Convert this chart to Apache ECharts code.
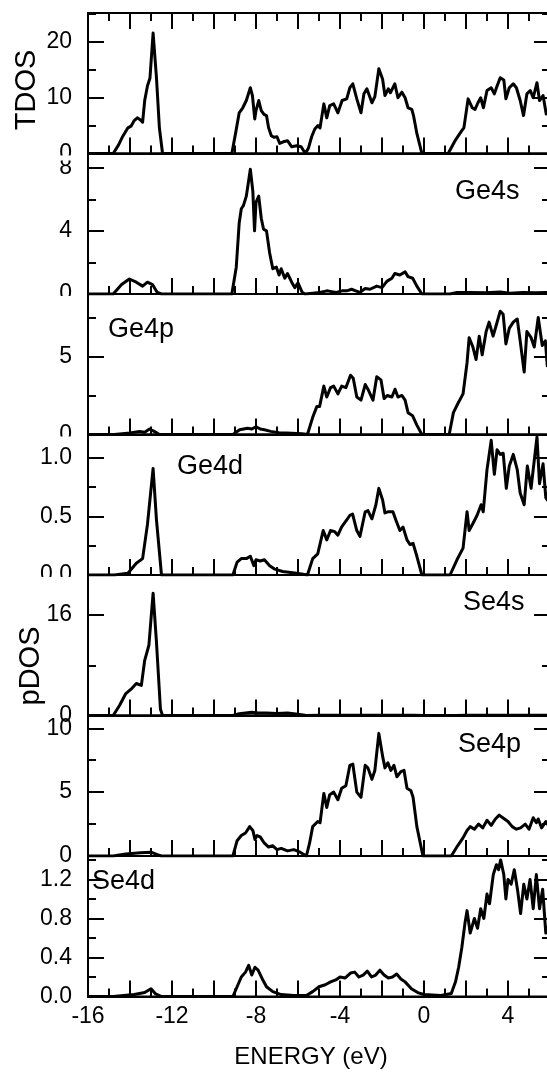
<!DOCTYPE html>
<html>
<head>
<meta charset="utf-8">
<script src="https://cdn.jsdelivr.net/npm/echarts@6/dist/echarts.min.js"></script>
<style>
html,body{margin:0;padding:0;background:#fff}
#chart{width:547px;height:1082px}
</style>
</head>
<body>
<div id="chart"></div>
<script>
// Density of states, [energy (eV), states] pairs per curve
const tdos = [[-16,0],[-14.8,0],[-14.55,1.5],[-14.37,2.9],[-14.1,4.6],[-13.95,4.9],[-13.8,5.9],[-13.65,6.4],[-13.5,6.0],[-13.4,5.6],[-13.3,9.5],[-13.17,12.1],[-13.05,13.5],[-12.9,21.6],[-12.74,13.6],[-12.6,4.6],[-12.45,0],
  [-9.15,0],[-8.95,4.1],[-8.8,7.3],[-8.63,8.2],[-8.46,9.5],[-8.27,11.8],[-8.17,10.4],[-8.06,6.2],[-8.0,7.7],[-7.87,9.5],[-7.75,7.7],[-7.62,7.0],[-7.5,6.8],[-7.4,4.6],[-7.27,3.2],[-7.15,2.9],[-7.0,3.0],[-6.87,1.8],[-6.7,2.1],[-6.5,2.3],[-6.3,1.2],[-6.06,1.4],[-5.85,1.2],[-5.65,0],[-5.5,1.0],[-5.35,3.0],[-5.2,4.4],[-5.05,5.0],[-4.95,4.6],[-4.77,8.9],[-4.63,6.4],[-4.49,8.6],[-4.3,8.9],[-4.1,7.3],[-3.9,9.5],[-3.68,9.8],[-3.53,11.8],[-3.39,12.5],[-3.2,9.8],[-3.0,7.3],[-2.86,10.7],[-2.72,11.6],[-2.48,9.1],[-2.34,10.2],[-2.15,15.2],[-1.97,13.3],[-1.86,10.4],[-1.7,11.6],[-1.6,10.9],[-1.39,12.5],[-1.24,10.0],[-1.05,11.0],[-0.9,10.0],[-0.76,8.2],[-0.58,7.9],[-0.5,6.8],[-0.34,3.6],[-0.1,0],
  [1.15,0],[1.48,2.3],[1.8,4.1],[1.9,4.6],[2.1,9.8],[2.3,8.2],[2.43,7.9],[2.57,9.1],[2.7,10.0],[2.83,8.2],[3.0,11.3],[3.2,11.8],[3.35,10.7],[3.48,12.1],[3.63,13.6],[3.8,13.2],[3.9,9.8],[4.06,11.8],[4.25,12.5],[4.4,11.8],[4.58,9.5],[4.74,6.8],[4.9,10.7],[5.06,11.3],[5.2,10.0],[5.38,12.7],[5.5,9.5],[5.67,10.4],[5.82,7.1],[6.0,8.5]];

const ge4s = [[-16,0],[-14.8,0],[-14.4,0.6],[-14.03,0.95],[-13.7,0.75],[-13.4,0.5],[-13.17,0.75],[-12.93,0.6],[-12.7,0.1],[-12.5,0],
  [-9.15,0],[-8.94,1.7],[-8.8,4.5],[-8.7,5.4],[-8.6,5.6],[-8.46,6.2],[-8.27,7.9],[-8.15,6.5],[-8.07,4.0],[-8.0,5.8],[-7.87,6.2],[-7.75,4.8],[-7.64,4.1],[-7.5,4.0],[-7.35,2.6],[-7.2,1.6],[-7.03,1.7],[-6.9,1.2],[-6.8,1.6],[-6.63,1.0],[-6.5,1.3],[-6.3,0.75],[-6.15,0.4],[-6.0,0.7],[-5.8,0.1],[-5.67,0],[-5.3,0.05],[-4.96,0.1],[-4.63,0.2],[-4.4,0.15],[-4.17,0.1],[-3.9,0.2],[-3.68,0.2],[-3.45,0.3],[-3.25,0.2],[-3.05,0.1],[-2.8,0.35],[-2.57,0.3],[-2.25,0.5],[-2.0,0.4],[-1.77,0.8],[-1.53,1.0],[-1.39,1.3],[-1.15,1.2],[-0.9,1.4],[-0.76,1.1],[-0.54,1.0],[-0.34,0.5],[-0.1,0],
  [1.24,0],[1.57,0.1],[2.2,0.1],[2.95,0.08],[3.63,0.12],[4.1,0.05],[4.7,0.1],[5.3,0.08],[6.0,0.1]];

const ge4p = [[-16,0],[-14.75,0],[-14.0,0.1],[-13.55,0.2],[-13.3,0.15],[-13.07,0.35],[-12.85,0.2],[-12.6,0],
  [-9.1,0],[-8.78,0.3],[-8.4,0.4],[-8.2,0.35],[-8.0,0.5],[-7.8,0.35],[-7.6,0.3],[-7.3,0.2],[-6.9,0.12],[-6.55,0.1],[-5.8,0.05],[-5.55,0],[-5.3,1.1],[-5.1,1.8],[-4.97,1.8],[-4.77,3.1],[-4.63,2.4],[-4.45,3.0],[-4.3,3.1],[-4.1,2.6],[-3.92,3.1],[-3.72,3.0],[-3.5,3.8],[-3.37,3.6],[-3.2,2.4],[-3.0,2.2],[-2.8,3.2],[-2.67,2.9],[-2.43,2.2],[-2.25,3.7],[-2.05,3.5],[-1.9,2.3],[-1.75,2.5],[-1.53,2.4],[-1.38,2.9],[-1.24,2.4],[-1.05,2.5],[-0.9,2.2],[-0.76,1.4],[-0.54,1.2],[-0.34,0.6],[-0.1,0],
  [1.2,0],[1.4,1.4],[1.62,2.0],[1.86,2.6],[2.05,4.6],[2.15,6.2],[2.33,5.6],[2.48,4.8],[2.63,6.3],[2.77,5.1],[2.96,6.6],[3.1,7.2],[3.29,6.3],[3.44,7.0],[3.63,7.9],[3.77,7.7],[3.9,5.8],[4.06,6.8],[4.25,7.2],[4.44,7.4],[4.58,6.0],[4.77,4.0],[4.9,6.6],[5.1,6.2],[5.25,5.6],[5.44,7.5],[5.63,5.7],[5.78,6.0],[5.87,4.4],[6.0,6.5]];

const ge4d = [[-16,0],[-14.75,0],[-14.1,0.015],[-13.7,0.1],[-13.4,0.14],[-13.17,0.43],[-12.9,0.91],[-12.74,0.47],[-12.5,0],
  [-9.1,0],[-8.9,0.11],[-8.7,0.14],[-8.46,0.14],[-8.27,0.16],[-8.1,0.08],[-8.0,0.13],[-7.8,0.12],[-7.6,0.13],[-7.35,0.08],[-7.1,0.05],[-6.73,0.03],[-6.06,0.015],[-5.55,0],[-5.3,0.14],[-5.06,0.18],[-4.8,0.38],[-4.63,0.3],[-4.45,0.38],[-4.25,0.37],[-4.1,0.34],[-3.92,0.41],[-3.68,0.47],[-3.53,0.51],[-3.4,0.52],[-3.2,0.38],[-3.05,0.33],[-2.8,0.54],[-2.67,0.55],[-2.48,0.48],[-2.29,0.6],[-2.15,0.74],[-1.97,0.64],[-1.86,0.53],[-1.72,0.54],[-1.48,0.54],[-1.34,0.47],[-1.15,0.38],[-1.0,0.41],[-0.81,0.3],[-0.67,0.26],[-0.52,0.27],[-0.34,0.16],[-0.1,0],
  [1.24,0],[1.57,0.13],[1.86,0.23],[2.05,0.54],[2.15,0.38],[2.33,0.44],[2.53,0.51],[2.72,0.6],[2.82,0.54],[3.0,0.9],[3.2,1.15],[3.35,0.86],[3.48,1.07],[3.63,1.03],[3.77,1.04],[3.92,0.74],[4.06,0.93],[4.25,1.03],[4.44,0.9],[4.58,0.7],[4.77,0.6],[4.92,0.93],[5.1,0.74],[5.2,0.9],[5.38,1.18],[5.5,0.78],[5.67,0.95],[5.8,0.66],[5.87,0.64],[6.0,0.8]];

const se4s = [[-16,0],[-14.8,0],[-14.5,1.6],[-14.2,3.5],[-13.95,4.2],[-13.7,5.1],[-13.46,4.8],[-13.3,8.8],[-13.1,11.2],[-12.9,19.5],[-12.74,11.7],[-12.55,1.0],[-12.45,0],
  [-9.1,0],[-8.8,0.3],[-8.5,0.4],[-8.2,0.5],[-7.9,0.4],[-7.5,0.4],[-7.0,0.3],[-6.5,0.4],[-6.0,0.2],[-5.6,0],[-5.0,0.05],[-3.0,0.05],[-0.5,0.05],[0,0],[1.5,0],[2.0,0.05],[4.0,0.05],[6.0,0.05]];

const se4p = [[-16,0],[-14.8,0],[-14.2,0.15],[-13.5,0.25],[-13.0,0.3],[-12.7,0.1],[-12.5,0],
  [-9.1,0],[-8.9,1.2],[-8.7,1.6],[-8.5,1.8],[-8.3,2.3],[-8.15,2.0],[-8.05,1.3],[-7.95,1.6],[-7.8,1.5],[-7.6,1.0],[-7.4,0.7],[-7.2,0.8],[-7.0,0.5],[-6.8,0.6],[-6.5,0.4],[-6.2,0.5],[-5.9,0.3],[-5.6,0],[-5.45,1.0],[-5.3,2.3],[-5.06,2.7],[-4.95,2.6],[-4.77,4.9],[-4.63,3.8],[-4.49,4.8],[-4.3,5.0],[-4.1,4.4],[-3.92,5.3],[-3.72,5.5],[-3.53,7.1],[-3.39,7.2],[-3.2,5.0],[-3.0,4.6],[-2.8,7.1],[-2.67,6.9],[-2.48,6.0],[-2.34,6.7],[-2.15,9.6],[-1.97,7.8],[-1.86,6.9],[-1.72,7.3],[-1.58,6.7],[-1.43,7.1],[-1.29,6.2],[-1.1,6.6],[-0.95,6.7],[-0.81,5.3],[-0.62,5.1],[-0.52,4.6],[-0.34,2.3],[-0.05,0],
  [1.3,0],[1.6,0.8],[1.85,1.4],[2.05,2.0],[2.2,2.3],[2.4,2.1],[2.6,2.5],[2.8,2.2],[3.0,2.8],[3.2,2.4],[3.4,2.9],[3.58,3.2],[3.75,3.0],[4.0,2.7],[4.2,2.3],[4.4,2.1],[4.6,2.2],[4.82,2.5],[5.0,2.1],[5.2,3.0],[5.35,2.6],[5.44,2.9],[5.6,2.2],[5.8,2.7],[6.0,2.2]];

const se4d = [[-16,0],[-14.8,0],[-14.3,0.01],[-13.8,0.02],[-13.3,0.04],[-13.0,0.08],[-12.8,0.03],[-12.5,0],
  [-9.1,0],[-8.9,0.1],[-8.7,0.2],[-8.5,0.25],[-8.35,0.32],[-8.2,0.22],[-8.05,0.3],[-7.9,0.27],[-7.7,0.18],[-7.5,0.1],[-7.2,0.05],[-6.8,0.02],[-6.2,0.01],[-5.6,0.01],[-5.3,0.05],[-5.0,0.1],[-4.7,0.12],[-4.45,0.15],[-4.2,0.17],[-4.0,0.2],[-3.75,0.19],[-3.5,0.24],[-3.3,0.25],[-3.1,0.2],[-2.9,0.22],[-2.7,0.26],[-2.5,0.2],[-2.3,0.22],[-2.1,0.27],[-1.9,0.22],[-1.7,0.19],[-1.5,0.2],[-1.3,0.23],[-1.1,0.18],[-0.9,0.15],[-0.6,0.08],[-0.3,0.04],[0,0.02],[0.8,0.01],[1.3,0.03],
  [1.5,0.15],[1.65,0.3],[1.8,0.5],[1.95,0.75],[2.05,0.88],[2.2,0.65],[2.4,0.8],[2.55,0.7],[2.7,0.9],[2.85,0.8],[3.0,1.05],[3.12,0.95],[3.3,1.25],[3.45,1.35],[3.55,1.3],[3.65,1.4],[3.8,1.25],[3.9,1.0],[4.0,1.2],[4.15,1.15],[4.3,1.3],[4.45,1.1],[4.6,0.85],[4.75,1.15],[4.9,1.0],[5.05,1.2],[5.2,0.9],[5.35,1.25],[5.5,0.9],[5.65,1.1],[5.8,0.65],[5.9,0.7],[6.0,0.8]];

// Panel captions and y-scales (top to bottom)
const panelNames = ['', 'Ge4s', 'Ge4p', 'Ge4d', 'Se4s', 'Se4p', 'Se4d'];
const panelData = [tdos, ge4s, ge4p, ge4d, se4s, se4p, se4d];
const yMax = [25.2, 8.9, 9.0, 1.2, 22.4, 11.0, 1.44];
const yMajor = [10, 4, 5, 0.5, 16, 5, 0.4];
const yDecimals = [0, 0, 0, 1, 0, 0, 1];
const energyMin = -16, energyMax = 6;
const xLabelStep = 4;

const FONT = '"Liberation Sans", Arial, Helvetica, sans-serif';
const GRID_LEFT = 88, GRID_WIDTH = 462, GRID_TOP = 13, PANEL_H = 140.5;
const INK = '#000';

const grids = [], xAxes = [], yAxes = [], series = [];
const isMultiple = (v, step) => Math.abs(v / step - Math.round(v / step)) < 1e-6;

panelData.forEach((data, i) => {
  const top = GRID_TOP + PANEL_H * i;
  grids.push({ left: GRID_LEFT, top: top, width: GRID_WIDTH, height: PANEL_H,
    show: true, borderColor: INK, borderWidth: 2, backgroundColor: 'transparent',
    containLabel: false, outerBoundsMode: 'none' });

  const last = i === panelData.length - 1;
  const xBase = { gridIndex: i, type: 'value', min: energyMin, max: energyMax,
    splitLine: { show: false }, axisLine: { onZero: false, show: false } };
  // long ticks every 2 eV (labels every 4 eV on the bottom panel)
  xAxes.push(Object.assign({}, xBase, { position: 'bottom', interval: 2,
    axisLine: { show: true, onZero: false, lineStyle: { color: INK, width: 2 } },
    axisTick: { show: true, inside: true, length: 16, lineStyle: { color: INK, width: 2 } },
    axisLabel: { show: last, margin: 9, color: INK, fontSize: 23, fontFamily: FONT,
      formatter: v => isMultiple(v, xLabelStep) ? String(v) : '' } }));
  // short ticks every 1 eV
  xAxes.push(Object.assign({}, xBase, { position: 'bottom', interval: 1,
    axisTick: { show: true, inside: true, length: 8, lineStyle: { color: INK, width: 2 } },
    axisLabel: { show: false } }));
  if (i === 0) {
    xAxes.push(Object.assign({}, xBase, { position: 'top', interval: 2,
      axisTick: { show: true, inside: true, length: 16, lineStyle: { color: INK, width: 2 } },
      axisLabel: { show: false } }));
    xAxes.push(Object.assign({}, xBase, { position: 'top', interval: 1,
      axisTick: { show: true, inside: true, length: 8, lineStyle: { color: INK, width: 2 } },
      axisLabel: { show: false } }));
  }

  const yBase = { gridIndex: i, type: 'value', min: 0, max: yMax[i],
    splitLine: { show: false }, axisLine: { show: false, onZero: false } };
  const firstY = yAxes.length;
  ['left', 'right'].forEach(pos => {
    yAxes.push(Object.assign({}, yBase, { position: pos, interval: yMajor[i],
      axisLine: { show: pos === 'left', onZero: false, lineStyle: { color: INK, width: 2 } },
      axisTick: { show: true, inside: true, length: 16, lineStyle: { color: INK, width: 2 } },
      axisLabel: { show: pos === 'left', margin: 16, color: INK, fontSize: 23, fontFamily: FONT,
        formatter: v => isMultiple(v, yMajor[i]) ? v.toFixed(yDecimals[i]) : '' } }));
    yAxes.push(Object.assign({}, yBase, { position: pos, interval: yMajor[i] / 2,
      axisTick: { show: true, inside: true, length: 8, lineStyle: { color: INK, width: 2 } },
      axisLabel: { show: false } }));
  });

  series.push({ type: 'line', xAxisIndex: xAxes.length - (i === 0 ? 4 : 2), yAxisIndex: firstY,
    data: data, showSymbol: false, symbol: 'none', clip: true, animation: false,
    lineStyle: { color: INK, width: 3, join: 'round' }, z: 3 });
});

const gtext = (text, x, y, size, extra) => Object.assign({ type: 'text', x: x, y: y, z: 100,
  style: { text: text, fill: INK, fontSize: size, fontFamily: FONT,
    align: 'left', verticalAlign: 'middle', textAlign: 'left', textVerticalAlign: 'middle' } }, extra || {});

const panelTop = i => GRID_TOP + PANEL_H * i;
const graphics = [
  // each lower panel hides the foot of the previous panel's zero label
  { type: 'rect', z: 90, shape: { x: 20, y: panelTop(1) + 2, width: 62, height: 5 }, style: { fill: '#fff' } },
  { type: 'rect', z: 90, shape: { x: 20, y: panelTop(2) + 2, width: 62, height: 8 }, style: { fill: '#fff' } },
  { type: 'rect', z: 90, shape: { x: 20, y: panelTop(3) + 2, width: 62, height: 9 }, style: { fill: '#fff' } },
  { type: 'rect', z: 90, shape: { x: 20, y: panelTop(4) + 2, width: 62, height: 10 }, style: { fill: '#fff' } },
  gtext('Ge4s', 455, 192, 27),
  gtext('Ge4p', 108, 330, 27),
  gtext('Ge4d', 177, 467, 27),
  gtext('Se4s', 463, 603, 27),
  gtext('Se4p', 458, 745, 27),
  gtext('Se4d', 92, 882, 27),
  { type: 'text', x: 27, y: 90, rotation: Math.PI / 2, z: 100,
    style: { text: 'TDOS', fill: INK, fontSize: 29, fontFamily: FONT, align: 'center', verticalAlign: 'middle',
      textAlign: 'center', textVerticalAlign: 'middle' } },
  { type: 'text', x: 31, y: 666, rotation: Math.PI / 2, z: 100,
    style: { text: 'pDOS', fill: INK, fontSize: 29, fontFamily: FONT, align: 'center', verticalAlign: 'middle',
      textAlign: 'center', textVerticalAlign: 'middle' } },
  { type: 'text', x: 311, y: 1057, z: 100,
    style: { text: 'ENERGY (eV)', fill: INK, fontSize: 24, fontFamily: FONT, align: 'center', verticalAlign: 'middle',
      textAlign: 'center', textVerticalAlign: 'middle' } }
];

const chart = echarts.init(document.getElementById('chart'), null, { renderer: 'canvas' });
chart.setOption({
  animation: false,
  backgroundColor: '#fff',
  grid: grids,
  xAxis: xAxes,
  yAxis: yAxes,
  series: series,
  graphic: graphics
});
</script>
</body>
</html>
